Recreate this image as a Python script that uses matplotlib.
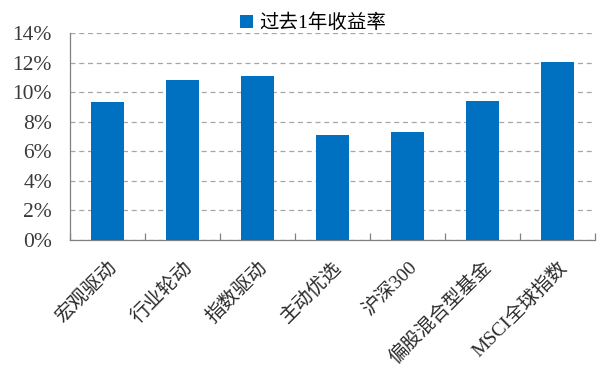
import matplotlib
matplotlib.use("Agg")
import matplotlib.pyplot as plt
from matplotlib.ticker import FuncFormatter, FixedLocator
from matplotlib.patches import Patch

categories = ["宏观驱动", "行业轮动", "指数驱动", "主动优选", "沪深300", "偏股混合型基金", "MSCI全球指数"]
returns = [9.3, 10.85, 11.1, 7.1, 7.3, 9.4, 12.05]
series_name = "过去1年收益率"
yticks = [0, 2, 4, 6, 8, 10, 12, 14]

fam = ['Liberation Serif', 'Noto Sans CJK SC']
plt.rcParams['font.family'] = fam

fig = plt.figure(figsize=(6.06, 3.84), dpi=100)
ax = fig.add_axes([70/606, 1-240/384, (595-70)/606, (240-33)/384])

color = "#0070C0"
x = list(range(len(categories)))
ax.bar(x, returns, width=0.43, color=color, zorder=3)

ax.set_xlim(-0.5, len(categories) - 0.5)
ax.set_ylim(0, 14)
ax.set_yticks(yticks)
ax.yaxis.set_major_formatter(FuncFormatter(lambda v, p: f"{int(v)}%"))
ax.tick_params(axis='y', length=0, pad=13, labelcolor="#3a3a3a")
for t in ax.get_yticklabels():
    t.set_fontfamily(['Liberation Serif'])
    t.set_fontsize(15.5)
ax.grid(axis='y', linestyle=(0, (4, 3)), color="#A6A6A6", linewidth=0.9, zorder=0)

ax.set_xticks(x)
ax.set_xticklabels(categories, rotation=45, ha='right', rotation_mode='anchor',
                   fontsize=14, color="#2a2a2a", family=fam)
ax.tick_params(axis='x', which='major', length=0, pad=13)
ax.xaxis.set_minor_locator(FixedLocator([i - 0.5 for i in range(len(categories) + 1)]))
ax.tick_params(axis='x', which='minor', direction='in', length=5, color="#808080", width=0.9)

for s in ['top', 'right']:
    ax.spines[s].set_visible(False)
for s in ['left', 'bottom']:
    ax.spines[s].set_color("#808080")
    ax.spines[s].set_linewidth(0.9)

handle = Patch(facecolor=color, edgecolor='none')
fig.legend([handle], [series_name], loc='center left', bbox_to_anchor=(222/606, 1-23/384),
           frameon=False, handlelength=0.7, handleheight=0.7,
           handletextpad=0.3, prop={'family': fam, 'size': 14})

fig.savefig("out.png", dpi=100)
